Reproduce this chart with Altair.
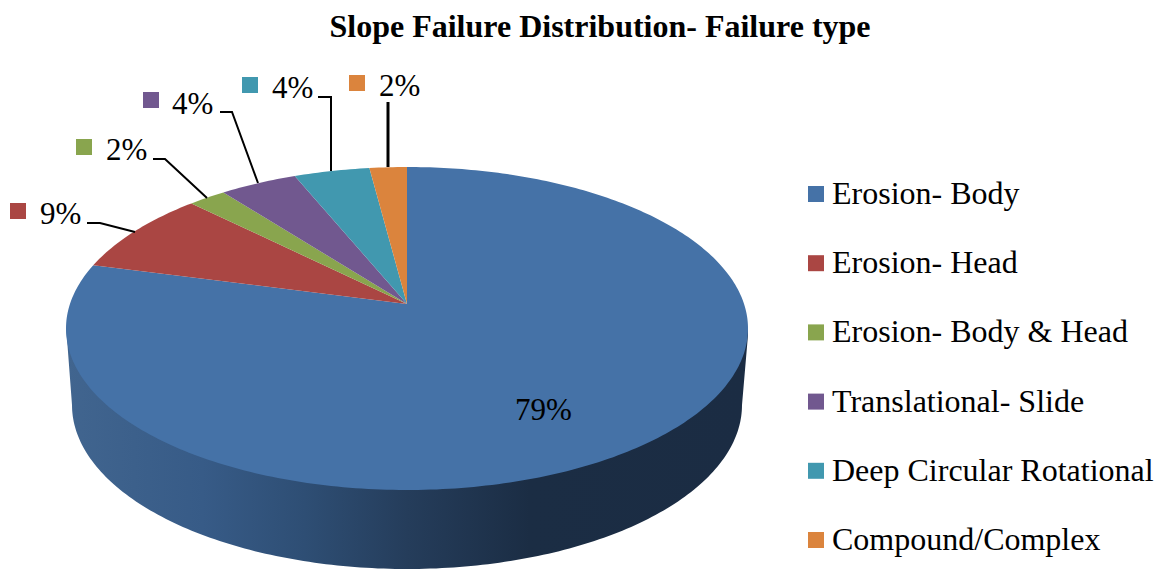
import math
import altair as alt
import pandas as pd

# ---- values ----
categories = ["Erosion- Body", "Erosion- Head", "Erosion- Body & Head",
              "Translational- Slide", "Deep Circular Rotational", "Compound/Complex"]
shares = [79.1, 8.37, 2.08, 4.25, 4.15, 2.05]
share_labels = ["79%", "9%", "2%", "4%", "4%", "2%"]
title_text = "Slope Failure Distribution- Failure type"

# ---- style ----
colors = ["#4572A7", "#AA4643", "#89A54E", "#71588F", "#4198AF", "#DB843D"]
FONT = "Liberation Serif"

# ---- layout (page pixel coordinates) ----
CX, CY, RX, RY, K = 407.0, 328.5, 341.0, 161.5, 0.152
WALL_CX, WALL_CY, WALL_RX, WALL_RY = 407.0, 405.0, 335.0, 164.0
key_pos = [(491, 409), (18, 211), (84, 147), (151, 100), (250, 85), (357, 83)]
text_pos = [(515, 420), (40, 224), (106, 160), (172, 114), (272, 98), (379, 96)]
leaders = [
    [],
    [(87, 223), (100, 223), (135, 232)],
    [(153, 159), (165, 159), (207, 198)],
    [(220, 112), (232, 112), (258, 183)],
    [(318, 97), (331, 97), (331, 171)],
    [(388, 102), (388, 167)],
]

PAD_TOP = 50
W, H = 1146, 513
x_scale = alt.Scale(domain=[8, 8 + W], nice=False, zero=False)
y_scale = alt.Scale(domain=[8 + PAD_TOP + H, 8 + PAD_TOP], nice=False, zero=False)
X = alt.X("px:Q", axis=None, scale=x_scale)
Y = alt.Y("py:Q", axis=None, scale=y_scale)
color_scale = alt.Scale(domain=categories, range=colors)


def rim(theta):
    u, v = math.sin(theta), math.cos(theta)
    d = 1 + K * v
    return (CX + RX * u * math.sqrt(1 - K * K) / d, CY - RY * (v + K) / d)


# top face slices
rows = []
start = 0.0
total = sum(shares)
for name, share in zip(categories, shares):
    a0 = start / total * 2 * math.pi
    a1 = (start + share) / total * 2 * math.pi
    n = max(4, int(share * 4))
    rows.append(dict(name=name, seq=0, px=CX, py=CY - RY * K))
    for i in range(n + 1):
        p = rim(a0 + (a1 - a0) * i / n)
        rows.append(dict(name=name, seq=i + 1, px=p[0], py=p[1]))
    start += share
slices = pd.DataFrame(rows)

# side wall
wall_rows = [dict(px=66.5, py=CY, py2=332.0)]
for i in range(0, 181):
    t = math.pi - math.pi * i / 180
    wall_rows.append(dict(px=WALL_CX + WALL_RX * math.cos(t), py=CY,
                          py2=WALL_CY + WALL_RY * math.sin(t)))
wall_rows.append(dict(px=748.0, py=CY, py2=335.0))
wall = pd.DataFrame(wall_rows)

wall_layer = alt.Chart(wall).mark_area(
    fill=alt.Gradient(
        gradient="linear", x1=0, x2=1, y1=0, y2=0,
        stops=[
            alt.GradientStop(color="#41658F", offset=0),
            alt.GradientStop(color="#375B87", offset=0.2),
            alt.GradientStop(color="#2E4E74", offset=0.35),
            alt.GradientStop(color="#253D5B", offset=0.5),
            alt.GradientStop(color="#1B2D44", offset=0.68),
            alt.GradientStop(color="#1B2C43", offset=1),
        ],
    ),
    opacity=1,
).encode(x=X, y=Y, y2=alt.Y2("py2:Q"))

legend = alt.Legend(
    title=None, orient="none", legendX=792, legendY=120, symbolType="square",
    symbolSize=256, symbolStrokeWidth=0, labelFont=FONT, labelFontSize=32,
    labelColor="#000000", labelOffset=0, rowPadding=37.2, padding=0,
    labelLimit=400,
)

slice_layer = alt.Chart(slices).mark_line(strokeWidth=0, interpolate="linear").encode(
    x=X, y=Y,
    fill=alt.Fill("name:N", scale=color_scale, legend=legend, sort=categories),
    order="seq:Q",
)

lead_rows = [dict(lid=i, seq=j, px=p[0], py=p[1], w=3 if i == 5 else 2)
             for i, line in enumerate(leaders) for j, p in enumerate(line)]
lead_layer = alt.Chart(pd.DataFrame(lead_rows)).mark_line(color="#000000").encode(
    x=X, y=Y, detail="lid:N", order="seq:Q",
    strokeWidth=alt.StrokeWidth("w:Q", scale=None),
)

keys = pd.DataFrame({
    "name": categories, "label": share_labels,
    "px": [p[0] for p in key_pos], "py": [p[1] for p in key_pos],
    "tx": [p[0] for p in text_pos], "ty": [p[1] for p in text_pos],
})
key_layer = alt.Chart(keys).mark_square(size=256, opacity=1, strokeWidth=0).encode(
    x=X, y=Y, fill=alt.Fill("name:N", scale=color_scale, legend=None),
)
text_layer = alt.Chart(keys).mark_text(
    font=FONT, fontSize=31, align="left", baseline="alphabetic", color="#000000"
).encode(
    x=alt.X("tx:Q", axis=None, scale=x_scale),
    y=alt.Y("ty:Q", axis=None, scale=y_scale),
    text="label:N",
)

chart = (wall_layer + slice_layer + lead_layer + key_layer + text_layer).properties(
    width=W, height=H,
    padding={"left": 0, "top": PAD_TOP, "right": 0, "bottom": 0},
    autosize=alt.AutoSizeParams(type="none"),
    background="#FFFFFF",
    title=alt.TitleParams(
        title_text, font=FONT, fontSize=32, fontWeight="bold", color="#000000",
        anchor="middle", dx=19, offset=14,
    ),
).configure_view(stroke=None)

chart.save("out.html", embed_options={"renderer": "svg", "actions": False})
